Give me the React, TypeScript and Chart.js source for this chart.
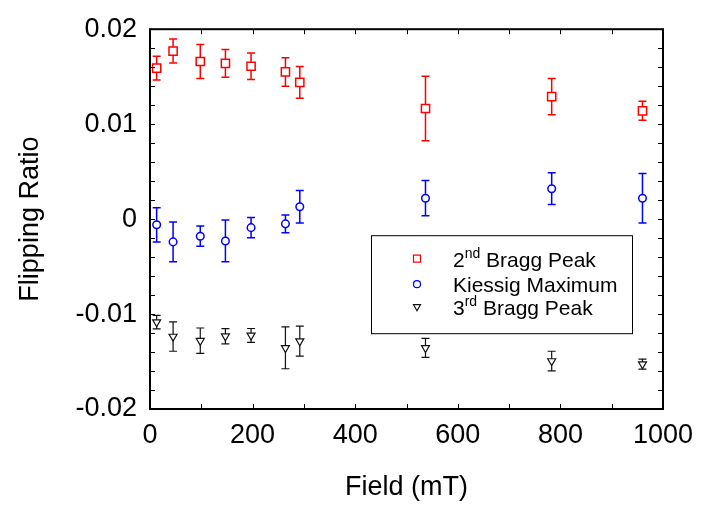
import React, { useEffect, useRef } from 'react';
import { Chart, registerables } from 'chart.js';

Chart.register(...registerables);

// ---- data ----
const fields = [13, 45, 98, 147, 197, 264, 292, 537, 783, 960];
const bragg2 = [0.0159, 0.0177, 0.0166, 0.0164, 0.0161, 0.0155, 0.0144, 0.01165, 0.0129, 0.0114];
const bragg2Err = [0.00125, 0.00126, 0.0018, 0.00145, 0.0014, 0.0015, 0.00166, 0.0034, 0.0019, 0.001];
const kiessig = [-0.0006, -0.0024, -0.0018, -0.0023, -0.0009, -0.0005, 0.0013, 0.0022, 0.0032, 0.0022];
const kiessigErr = [0.0018, 0.0021, 0.00107, 0.0022, 0.00107, 0.00093, 0.0017, 0.00186, 0.00167, 0.0026];
const bragg3 = [-0.01085, -0.01237, -0.01281, -0.01234, -0.01225, -0.01356, -0.01285, -0.01356, -0.01495, -0.01528];
const bragg3Err = [0.00072, 0.00155, 0.00134, 0.0008, 0.00073, 0.0022, 0.00158, 0.001, 0.00103, 0.00053];

const xTickLabels = ['0', '200', '400', '600', '800', '1000'];
const yTickLabels = ['-0.02', '-0.01', '0', '0.01', '0.02'];
const legendBase = ['2', 'Kiessig Maximum', '3'];
const legendSup = ['nd', '', 'rd'];
const legendRest = [' Bragg Peak', '', ' Bragg Peak'];

const FONT = '"Liberation Sans", Arial, sans-serif';
const COLORS = ['#ff0000', '#0000ff', '#111111'];

function drawMarker(ctx: CanvasRenderingContext2D, kind: number, x: number, y: number, s: number) {
  ctx.beginPath();
  if (kind === 0) {
    ctx.rect(x - s, y - s, 2 * s, 2 * s);
  } else if (kind === 1) {
    ctx.arc(x, y, s, 0, Math.PI * 2);
  } else {
    const r = s * 1.15;
    ctx.moveTo(x, y + r);
    ctx.lineTo(x - r * 0.866, y - r * 0.5);
    ctx.lineTo(x + r * 0.866, y - r * 0.5);
    ctx.closePath();
  }
  ctx.stroke();
}

const errorBarPlugin = {
  id: 'errorBars',
  beforeDatasetsDraw(chart: any) {
    const { ctx, scales } = chart;
    const yScale = scales.y;
    chart.data.datasets.forEach((ds: any, i: number) => {
      const meta = chart.getDatasetMeta(i);
      ctx.save();
      ctx.strokeStyle = ds.borderColor;
      ctx.lineWidth = ds.errLineWidth;
      meta.data.forEach((pt: any, j: number) => {
        const v = ds.data[j].y;
        const e = ds.errors[j];
        const yt = yScale.getPixelForValue(v + e);
        const yb = yScale.getPixelForValue(v - e);
        const x = pt.x;
        ctx.beginPath();
        ctx.moveTo(x, yt);
        ctx.lineTo(x, yb);
        ctx.moveTo(x - 4, yt);
        ctx.lineTo(x + 4, yt);
        ctx.moveTo(x - 4, yb);
        ctx.lineTo(x + 4, yb);
        ctx.stroke();
      });
      ctx.restore();
    });
  },
};

const framePlugin = {
  id: 'frame',
  afterDraw(chart: any) {
    const { ctx, chartArea, scales } = chart;
    const { left, right, top, bottom } = chartArea;
    const xs = scales.x;
    const ys = scales.y;
    ctx.save();
    ctx.strokeStyle = '#000';
    ctx.lineWidth = 1;
    const L = 5;
    ctx.beginPath();
    for (let v = xs.min; v <= xs.max + 1e-6; v += 100) {
      const px = Math.round(xs.getPixelForValue(v)) + 0.5;
      ctx.moveTo(px, bottom);
      ctx.lineTo(px, bottom - L);
      ctx.moveTo(px, top);
      ctx.lineTo(px, top + L);
    }
    for (let k = 0; k <= 20; k++) {
      const v = ys.min + k * 0.002;
      const py = Math.round(ys.getPixelForValue(v)) + 0.5;
      ctx.moveTo(left, py);
      ctx.lineTo(left + L, py);
      ctx.moveTo(right, py);
      ctx.lineTo(right - L, py);
    }
    ctx.stroke();
    ctx.lineWidth = 2;
    ctx.strokeRect(left, top, right - left, bottom - top);

    // legend
    const bx = left + 221;
    const by = top + 206;
    const bw = 261;
    const bh = 98;
    ctx.lineWidth = 1;
    ctx.fillStyle = '#fff';
    ctx.fillRect(bx, by, bw, bh);
    ctx.strokeRect(bx + 0.5, by + 0.5, bw, bh);
    const rows = [by + 23.5, by + 49, by + 71.5];
    for (let i = 0; i < 3; i++) {
      const cy = rows[i];
      ctx.strokeStyle = COLORS[i];
      ctx.lineWidth = 1.2;
      drawMarker(ctx, i, bx + 46, cy, 3.5);
      ctx.fillStyle = '#000';
      ctx.textBaseline = 'alphabetic';
      ctx.textAlign = 'left';
      ctx.font = `21px ${FONT}`;
      let tx = bx + 82;
      const base = cy + 8;
      ctx.fillText(legendBase[i], tx, base);
      tx += ctx.measureText(legendBase[i]).width;
      if (legendSup[i]) {
        ctx.font = `14px ${FONT}`;
        ctx.fillText(legendSup[i], tx, base - 9);
        tx += ctx.measureText(legendSup[i]).width;
        ctx.font = `21px ${FONT}`;
      }
      if (legendRest[i]) ctx.fillText(legendRest[i], tx, base);
    }
    ctx.restore();
  },
};

function toPoints(vals: number[]) {
  return vals.map((v, i) => ({ x: fields[i], y: v }));
}

export default function App() {
  const ref = useRef<HTMLCanvasElement | null>(null);
  useEffect(() => {
    document.body.style.margin = '0';
    const canvas = ref.current;
    if (!canvas) return;
    const chart = new Chart(canvas, {
      type: 'scatter',
      data: {
        datasets: [
          {
            label: '2nd Bragg Peak',
            data: toPoints(bragg2),
            errors: bragg2Err,
            borderColor: COLORS[0],
            backgroundColor: '#ffffff',
            pointStyle: 'rect',
            pointRadius: 5.8,
            pointBorderWidth: 1.5,
            errLineWidth: 1.5,
          } as any,
          {
            label: 'Kiessig Maximum',
            data: toPoints(kiessig),
            errors: kiessigErr,
            borderColor: COLORS[1],
            backgroundColor: '#ffffff',
            pointStyle: 'circle',
            pointRadius: 3.8,
            pointBorderWidth: 1.5,
            errLineWidth: 1.5,
          } as any,
          {
            label: '3rd Bragg Peak',
            data: toPoints(bragg3),
            errors: bragg3Err,
            borderColor: COLORS[2],
            backgroundColor: '#ffffff',
            pointStyle: 'triangle',
            pointRotation: 180,
            pointRadius: 4.6,
            pointBorderWidth: 1.2,
            errLineWidth: 1.2,
          } as any,
        ],
      },
      options: {
        responsive: false,
        animation: false,
        layout: { padding: { top: 21, right: 50, left: 0, bottom: 0 } },
        plugins: { legend: { display: false }, tooltip: { enabled: false } },
        scales: {
          x: {
            type: 'linear',
            min: 0,
            max: 1000,
            grid: { display: false, drawTicks: false },
            border: { display: false },
            ticks: {
              stepSize: 200,
              padding: 10,
              color: '#000',
              font: { family: FONT, size: 27 },
              maxRotation: 0,
              callback: (v: any) => {
                const s = xTickLabels.find((l) => Math.abs(Number(l) - v) < 1e-6);
                return s ?? '';
              },
            },
            title: {
              display: true,
              text: 'Field (mT)',
              color: '#000',
              font: { family: FONT, size: 27 },
              padding: { top: 0, bottom: 4 },
            },
            afterFit: (s: any) => {
              s.height = 99;
            },
          },
          y: {
            type: 'linear',
            min: -0.02,
            max: 0.02,
            grid: { display: false, drawTicks: false },
            border: { display: false },
            ticks: {
              stepSize: 0.01,
              padding: 13,
              color: '#000',
              font: { family: FONT, size: 27 },
              callback: (v: any) => {
                const s = yTickLabels.find((l) => Math.abs(Number(l) - v) < 1e-9);
                return s ?? '';
              },
            },
            title: {
              display: true,
              text: 'Flipping Ratio',
              color: '#000',
              font: { family: FONT, size: 27 },
              padding: { top: 14, bottom: 0 },
            },
            afterFit: (s: any) => {
              s.width = 150;
            },
          },
        },
      } as any,
      plugins: [errorBarPlugin, framePlugin],
    });
    return () => chart.destroy();
  }, []);
  return (
    <div style={{ width: 713, height: 508 }}>
      <canvas ref={ref} width={713} height={508} />
    </div>
  );
}
